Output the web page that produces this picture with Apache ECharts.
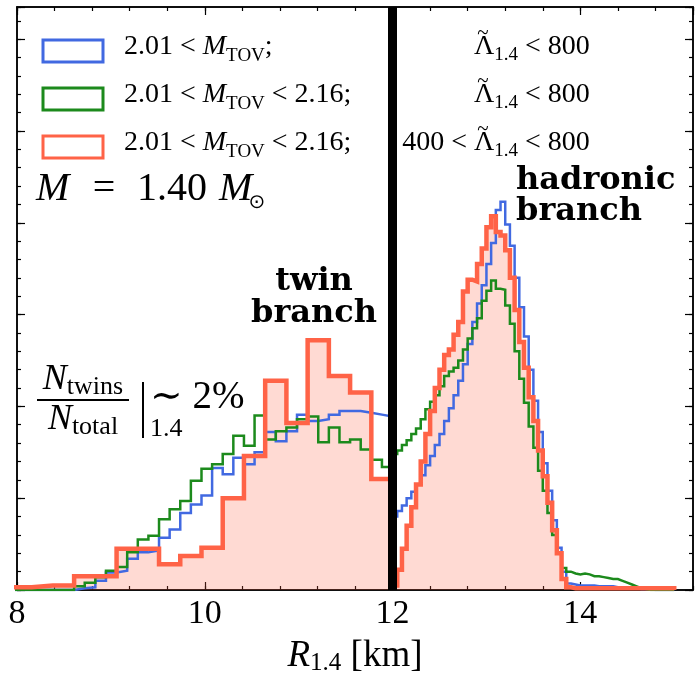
<!DOCTYPE html>
<html>
<head>
<meta charset="utf-8">
<script src="https://cdn.jsdelivr.net/npm/echarts@6/dist/echarts.min.js"></script>
<style>
  html, body { margin: 0; padding: 0; background: #fff; }
  #chart { width: 695px; height: 681px; }
</style>
</head>
<body>
<div id="chart"></div>
<script>
// ---- Histogram data: R_1.4 [km] ----
// Twin branch (R < 12 km): coarse bins for the 400 < Lambda < 800 sample,
// fine bins for the other two samples.
const twinRange = [7.93, 12.0];
const twinRed = [0.03, 0.05, 0.05, 0.15, 0.15, 0.45, 0.45, 0.28, 0.37, 0.46,
                 1.00, 1.46, 2.28, 1.82, 2.72, 2.33, 2.15, 1.21];
const twinBlue = [0, 0, 0, 0, 0, 0, 0.02, 0.03, 0.10, 0.19,
                  0.21, 0.34, 0.41, 0.43, 0.57, 0.66, 0.84, 0.93, 1.03, 1.33,
                  1.26, 1.44, 1.37, 1.50, 1.72, 1.62, 1.73, 1.91, 1.84, 1.86,
                  1.91, 1.95, 1.95, 1.93, 1.91, 1.89];
const twinGreen = [0, 0, 0, 0, 0, 0, 0.04, 0.08, 0.14, 0.21,
                   0.25, 0.41, 0.55, 0.59, 0.77, 0.88, 0.97, 1.19, 1.32, 1.37,
                   1.48, 1.68, 1.57, 1.90, 1.64, 1.73, 1.77, 1.86, 1.89, 1.61,
                   1.77, 1.61, 1.64, 1.53, 1.42, 1.34];

// Hadronic branch (R > 12 km), 0.05 km bins
const hadronicRange = [12.0, 15.0];
const hadronicBlue = [0.80, 0.86, 0.92, 1.00, 1.07, 1.15, 1.25, 1.36, 1.46, 1.58,
                      1.70, 1.84, 1.98, 2.12, 2.28, 2.46, 2.68, 2.92, 3.12, 3.32,
                      3.55, 3.78, 4.14, 4.23, 3.98, 3.75, 3.40, 3.08, 2.76, 2.40,
                      2.06, 1.72, 1.38, 1.08, 0.76, 0.46, 0.20, 0.07, 0.06, 0.05,
                      0.05, 0.05, 0.05, 0.04, 0.04, 0.04, 0.04, 0.03, 0.03, 0.03,
                      0.02, 0.02, 0.01, 0.01, 0.01, 0, 0, 0, 0, 0];
const hadronicGreen = [1.48, 1.52, 1.58, 1.63, 1.70, 1.76, 1.86, 1.97, 2.05, 2.12,
                       2.22, 2.33, 2.38, 2.42, 2.50, 2.62, 2.74, 2.85, 2.96, 3.15,
                       3.26, 3.37, 3.28, 3.27, 3.10, 2.90, 2.60, 2.30, 2.04, 1.78,
                       1.55, 1.30, 1.08, 0.84, 0.60, 0.40, 0.24, 0.20, 0.18, 0.17,
                       0.18, 0.17, 0.15, 0.15, 0.14, 0.13, 0.12, 0.12, 0.10, 0.08,
                       0.06, 0.04, 0.02, 0.01, 0, 0, 0, 0, 0, 0];
const hadronicRed = [0.05, 0.22, 0.45, 0.70, 0.90, 1.15, 1.40, 1.70, 1.95, 2.20,
                     2.40, 2.56, 2.62, 2.78, 2.92, 3.25, 3.38, 3.36, 3.55, 3.72,
                     3.95, 4.07, 3.90, 3.86, 3.70, 3.40, 3.05, 2.70, 2.42, 2.10,
                     1.84, 1.52, 1.24, 0.95, 0.65, 0.40, 0.12, 0.03, 0.02, 0.02,
                     0.02, 0.02, 0.02, 0.02, 0.02, 0.02, 0.02, 0.02, 0.02, 0.02,
                     0.02, 0.02, 0.02, 0.02, 0.02, 0.02, 0.02, 0.02, 0.02, 0.02];

// Axis ticks
const xRange = [8, 15.2];
const xMajorTicks = [8, 10, 12, 14];
const yRange = [0, 6.35];
const separatorR = 12;

// ---- Styling ----
const BLUE = '#4169E1';
const GREEN = '#1c8a1c';
const RED = '#FF6347';
const RED_FILL = 'rgba(255, 99, 71, 0.24)';
const SERIF = '"Liberation Serif", "DejaVu Serif", serif';
const BOLD_SERIF = '"DejaVu Serif", "Liberation Serif", serif';

// Build a closed step outline (histogram) from a bin range and bin heights
function stepOutline(range, values) {
  const w = (range[1] - range[0]) / values.length;
  const pts = [[range[0], 0]];
  values.forEach((v, i) => {
    pts.push([range[0] + i * w, v], [range[0] + (i + 1) * w, v]);
  });
  pts.push([range[1], 0]);
  return pts;
}

function histLine(name, range, values, color, width, z) {
  return {
    name, type: 'line', data: stepOutline(range, values),
    xAxisIndex: 0, yAxisIndex: 0,
    showSymbol: false, symbol: 'none', silent: true, animation: false,
    lineStyle: { color, width, join: 'miter', cap: 'butt' },
    z
  };
}

function histFill(range, values) {
  return {
    type: 'line', data: stepOutline(range, values),
    xAxisIndex: 0, yAxisIndex: 0,
    showSymbol: false, symbol: 'none', silent: true, animation: false,
    lineStyle: { width: 0, opacity: 0 },
    areaStyle: { color: RED_FILL, opacity: 1 },
    z: 1
  };
}

const frameLine = { show: true, onZero: false, lineStyle: { color: '#000', width: 1.5 } };

function xAxisDef(position, interval, tickLen, withLabels) {
  return {
    type: 'value', position, min: xRange[0], max: xRange[1], interval,
    axisLine: frameLine,
    axisTick: { show: true, inside: true, length: tickLen, lineStyle: { color: '#000', width: 1.2 } },
    splitLine: { show: false },
    axisLabel: withLabels ? {
      show: true, color: '#000', fontFamily: SERIF, fontSize: 34, margin: 7,
      showMaxLabel: false,
      formatter: v => (xMajorTicks.indexOf(v) >= 0 ? String(v) : '')
    } : { show: false }
  };
}

function yAxisDef(position, interval, tickLen) {
  return {
    type: 'value', position, min: yRange[0], max: yRange[1], interval,
    axisLine: frameLine,
    axisTick: { show: true, inside: true, length: tickLen, lineStyle: { color: '#000', width: 1.2 } },
    splitLine: { show: false },
    axisLabel: { show: false }
  };
}

const xAxes = [
  xAxisDef('bottom', 2, 8, true),
  xAxisDef('bottom', 0.4, 4, false),
  xAxisDef('top', 2, 8, false),
  xAxisDef('top', 0.4, 4, false)
];
xAxes[0].name = '{i|R}{s|1.4}{n| [km]}';
xAxes[0].nameLocation = 'middle';
xAxes[0].nameGap = 47;
xAxes[0].nameTextStyle = {
  color: '#000',
  rich: {
    i: { fontFamily: SERIF, fontSize: 37, fontStyle: 'italic', color: '#000' },
    s: { fontFamily: SERIF, fontSize: 25, color: '#000', padding: [14, 0, 0, 0] },
    n: { fontFamily: SERIF, fontSize: 37, color: '#000' }
  }
};

const yAxes = [
  yAxisDef('left', 1, 8),
  yAxisDef('left', 0.2, 4),
  yAxisDef('right', 1, 8),
  yAxisDef('right', 0.2, 4)
];

// ---- Annotations ----
function richText(x, y, text, rich, align) {
  return {
    type: 'text', x, y, z: 100, silent: true,
    style: {
      text, rich, fill: '#000',
      align: align || 'left', verticalAlign: 'middle',
      textAlign: align || 'left', textVerticalAlign: 'middle'
    }
  };
}

function plainText(x, y, text, font, align) {
  return {
    type: 'text', x, y, z: 100, silent: true,
    style: Object.assign({
      text, fill: '#000',
      align: align || 'left', verticalAlign: 'middle',
      textAlign: align || 'left', textVerticalAlign: 'middle'
    }, font)
  };
}

const legendRich = {
  n: { fontFamily: SERIF, fontSize: 28, fill: '#000' },
  i: { fontFamily: SERIF, fontSize: 28, fontStyle: 'italic', fill: '#000' },
  s: { fontFamily: SERIF, fontSize: 19, fill: '#000', padding: [18, 0, 0, 0] },
  t: { fontFamily: SERIF, fontSize: 19, fill: '#000', padding: [16, 0, 0, 0] }
};
const boldFont = { fontFamily: BOLD_SERIF, fontSize: 32, fontWeight: 'bold' };

const legendRows = [
  { color: BLUE, y: 51, left: '{n|2.01 < }{i|M}{s|TOV}{n|;}', prefix: '' },
  { color: GREEN, y: 99, left: '{n|2.01 < }{i|M}{s|TOV}{n| < 2.16;}', prefix: '' },
  { color: RED, y: 147, left: '{n|2.01 < }{i|M}{s|TOV}{n| < 2.16;}', prefix: '400 < ' }
];
const lambdaX = 474;

const graphics = [];
legendRows.forEach(row => {
  const ym = row.y - 4;
  graphics.push({
    type: 'rect', z: 100, silent: true,
    shape: { x: 43, y: row.y - 11, width: 60, height: 22 },
    style: { fill: 'none', stroke: row.color, lineWidth: 3 }
  });
  graphics.push(richText(124, ym, row.left, legendRich, 'left'));
  // tidal deformability condition: Λ̃_1.4 range
  if (row.prefix) graphics.push(richText(lambdaX, ym, '{n|' + row.prefix + '}', legendRich, 'right'));
  graphics.push(richText(lambdaX, ym, '{n|Λ}{t|1.4}{n| < 800}', legendRich, 'left'));
  graphics.push(plainText(lambdaX + 9, ym - 14, '~', { fontFamily: SERIF, fontSize: 21 }, 'center'));
});

// M = 1.40 M_sun
const bigFont = { fontFamily: SERIF, fontSize: 40 };
const bigItalic = { fontFamily: SERIF, fontSize: 40, fontStyle: 'italic' };
graphics.push(plainText(36, 189, 'M', bigItalic, 'left'));
graphics.push(plainText(104, 189, '=', bigFont, 'center'));
graphics.push(plainText(137, 189, '1.40', bigFont, 'left'));
graphics.push(plainText(219, 189, 'M', bigItalic, 'left'));
graphics.push(plainText(257, 203, '⊙', { fontFamily: '"DejaVu Sans", sans-serif', fontSize: 20 }, 'center'));

graphics.push(plainText(516, 181, 'hadronic', boldFont, 'left'));
graphics.push(plainText(516, 212, 'branch', boldFont, 'left'));
graphics.push(plainText(314, 282, 'twin', boldFont, 'center'));
graphics.push(plainText(314, 314, 'branch', boldFont, 'center'));

// N_twins / N_total |_1.4 ~ 2%
const fracRich = {
  i: { fontFamily: SERIF, fontSize: 36, fontStyle: 'italic', fill: '#000' },
  s: { fontFamily: SERIF, fontSize: 26, fill: '#000', padding: [14, 0, 0, 0] },
  n: { fontFamily: SERIF, fontSize: 39, fill: '#000' }
};
graphics.push(richText(83, 380, '{i|N}{s|twins}', fracRich, 'center'));
graphics.push({ type: 'line', z: 100, silent: true, shape: { x1: 37, y1: 400, x2: 129, y2: 400 }, style: { stroke: '#000', lineWidth: 2 } });
graphics.push(richText(83, 420, '{i|N}{s|total}', fracRich, 'center'));
graphics.push({ type: 'line', z: 100, silent: true, shape: { x1: 143, y1: 382, x2: 143, y2: 438 }, style: { stroke: '#000', lineWidth: 2 } });
graphics.push(plainText(150, 429, '1.4', { fontFamily: SERIF, fontSize: 26 }, 'left'));
graphics.push(richText(150, 398, '{n|∼ 2%}', fracRich, 'left'));

const chart = echarts.init(document.getElementById('chart'), null, { renderer: 'canvas' });
chart.setOption({
  animation: false,
  backgroundColor: '#fff',
  grid: { left: 17, right: 2, top: 7, bottom: 90, containLabel: false },
  xAxis: xAxes,
  yAxis: yAxes,
  series: [
    histFill(twinRange, twinRed),
    histFill(hadronicRange, hadronicRed),
    histLine('twin-blue', twinRange, twinBlue, BLUE, 2.5, 2),
    histLine('hadronic-blue', hadronicRange, hadronicBlue, BLUE, 2.5, 2),
    histLine('twin-green', twinRange, twinGreen, GREEN, 2.5, 3),
    histLine('hadronic-green', hadronicRange, hadronicGreen, GREEN, 2.5, 3),
    histLine('twin-red', twinRange, twinRed, RED, 4.5, 4),
    Object.assign(histLine('hadronic-red', hadronicRange, hadronicRed, RED, 4.5, 4), {
      markLine: {
        silent: true, symbol: ['none', 'none'], animation: false,
        label: { show: false },
        lineStyle: { color: '#000', width: 9, type: 'solid' },
        data: [{ xAxis: separatorR }]
      }
    })
  ],
  graphic: graphics
});
</script>
</body>
</html>
